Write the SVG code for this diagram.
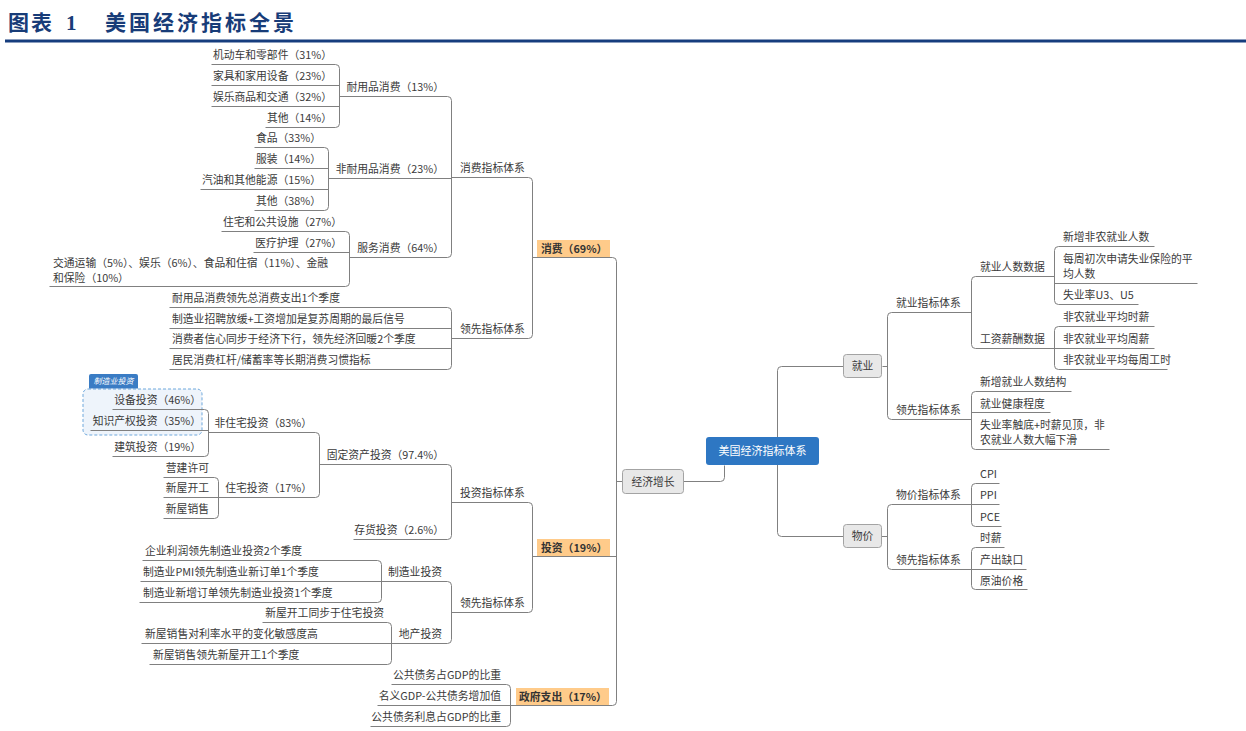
<svg xmlns="http://www.w3.org/2000/svg" width="1246" height="731" viewBox="0 0 1246 731">
<style>
.t{font-family:"Noto Sans CJK SC","Microsoft YaHei",sans-serif;font-size:10.8px;fill:#3a3a3a}
.e{text-anchor:end}
.c{text-anchor:middle}
.b{font-weight:bold;fill:#333}
.w{fill:#ffffff;font-size:11px}
.ln{fill:none;stroke:#808080;stroke-width:1}
.org{fill:#FFCB8A}
.gbox{fill:#E8E8E8;stroke:#A3A3A3;stroke-width:1}
</style>
<rect width="1246" height="731" fill="#ffffff"/>
<g id="title">
<text x="8" y="30" font-family="'Liberation Serif','Noto Sans CJK SC',serif" font-weight="bold" font-size="21" fill="#183C78"><tspan x="8" letter-spacing="2">图表 </tspan><tspan x="66">1</tspan><tspan x="105" letter-spacing="3">美国经济指标全景</tspan></text>
<rect x="5" y="39.5" width="1241" height="3" fill="#163D7E"/>
</g>

<g id="boundary-manufacturing">
<rect x="83" y="389" width="119" height="46" rx="5" fill="#EEF4FB" stroke="#6FA8DC" stroke-width="1" stroke-dasharray="3 2"/>
<path d="M89 388.5 V376 Q89 374 91 374 H136 Q138 374 138 376 V388.5 Z" fill="#3A7CC4"/>
<text class="t" x="113.5" y="384" text-anchor="middle" font-style="italic" style="font-size:8px;fill:#fff">制造业投资</text>
</g>

<g id="connectors" class="ln" transform="translate(0.5 0.5)">
<path class="ln" d="M211 64 H335 Q339 64 339 68 V123 Q339 127 335 127 H265 M211 85 H339 M211 106 H339"/>
<path class="ln" d="M254 147 H324 Q328 147 328 151 V206 Q328 210 324 210 H254 M254 168 H328 M200 189 H328"/>
<path class="ln" d="M221 231 H345 Q349 231 349 235 V282 Q349 286 345 286 H49 M253 252 H349"/>
<path class="ln" d="M339 96 H447 Q451 96 451 100 V253 Q451 257 447 257 H349 M328 178 H451"/>
<path class="ln" d="M169 307 H447 Q451 307 451 311 V365 Q451 369 447 369 H169 M169 328 H451 M169 348 H451"/>
<path class="ln" d="M451 177 H528 Q532 177 532 181 V334 Q532 338 528 338 H451"/>
<path class="ln" d="M532 257 H612 Q616 257 616 261 V701 Q616 705 612 705 H510 M532 556 H616 M616 481 H622"/>
<path class="ln" d="M112 409 H204 Q208 409 208 413 V452 Q208 456 204 456 H112 M90 430 H208"/>
<path class="ln" d="M163 477 H214 Q218 477 218 481 V514 Q218 518 214 518 H163 M163 497 H218"/>
<path class="ln" d="M208 432 H315 Q319 432 319 436 V493 Q319 497 315 497 H218"/>
<path class="ln" d="M319 464 H447 Q451 464 451 468 V535 Q451 539 447 539 H353"/>
<path class="ln" d="M142 560 H377 Q381 560 381 564 V598 Q381 602 377 602 H139 M140 581 H381"/>
<path class="ln" d="M262 622 H387 Q391 622 391 626 V660 Q391 664 387 664 H149 M141 643 H391"/>
<path class="ln" d="M381 581 H447 Q451 581 451 585 V639 Q451 643 447 643 H391"/>
<path class="ln" d="M451 502 H528 Q532 502 532 506 V608 Q532 612 528 612 H451"/>
<path class="ln" d="M391 684 H506 Q510 684 510 688 V722 Q510 726 506 726 H370 M377 705 H510"/>
<path class="ln" d="M683 481 H720 Q724 481 724 477 V465"/>
<path class="ln" d="M843 366 H781 Q777 366 777 370 V532 Q777 536 781 536 H843"/>
<path class="ln" d="M882 366 H887 M971 312 H891 Q887 312 887 316 V415 Q887 419 891 419 H971"/>
<path class="ln" d="M1054 276 H975 Q971 276 971 280 V344 Q971 348 975 348 H1054"/>
<path class="ln" d="M1154 246 H1058 Q1054 246 1054 250 V300 Q1054 304 1058 304 H1138 M1054 283 H1197"/>
<path class="ln" d="M1154 326 H1058 Q1054 326 1054 330 V365 Q1054 369 1058 369 H1167 M1054 348 H1154"/>
<path class="ln" d="M1071 391 H975 Q971 391 971 395 V445 Q971 449 975 449 H1109 M971 412 H1050"/>
<path class="ln" d="M881 536 H887 M971 504 H891 Q887 504 887 508 V565 Q887 569 891 569 H971"/>
<path class="ln" d="M999 483 H975 Q971 483 971 487 V522 Q971 526 975 526 H1001 M971 504 H999"/>
<path class="ln" d="M1004 547 H975 Q971 547 971 551 V585 Q971 589 975 589 H1027 M971 569 H1026"/>
</g>

<g id="root"><rect x="706" y="437" width="113" height="28" rx="3" fill="#2E77C3"/><text class="t w c" x="762.5" y="455">美国经济指标体系</text></g>
<g id="n-growth"><rect class="gbox" x="622.5" y="469.5" width="61" height="24" rx="3"/><text class="t c" x="653" y="485.5">经济增长</text></g>
<g id="n-employment"><rect class="gbox" x="843.5" y="354.5" width="38" height="23" rx="3"/><text class="t c" x="862.5" y="370">就业</text></g>
<g id="n-price"><rect class="gbox" x="843.5" y="524.5" width="38" height="23" rx="3"/><text class="t c" x="862.5" y="540">物价</text></g>

<g id="n-consumption"><rect class="org" x="537" y="240" width="73" height="17"/><text class="t b" x="541" y="252.5">消费（69%）</text></g>
<g id="n-investment"><rect class="org" x="537" y="539" width="73" height="17"/><text class="t b" x="541" y="551.5">投资（19%）</text></g>
<g id="n-gov"><rect class="org" x="516" y="688" width="93" height="17"/><text class="t b" x="519" y="700.5">政府支出（17%）</text></g>

<g id="n-cons-sys"><text class="t" x="460" y="172">消费指标体系</text></g>
<g id="n-durable"><text class="t e" x="444" y="91">耐用品消费（13%）</text></g>
<g id="n-d1"><text class="t e" x="332" y="59">机动车和零部件（31%）</text></g>
<g id="n-d2"><text class="t e" x="332" y="80">家具和家用设备（23%）</text></g>
<g id="n-d3"><text class="t e" x="332" y="101">娱乐商品和交通（32%）</text></g>
<g id="n-d4"><text class="t e" x="332" y="122">其他（14%）</text></g>
<g id="n-nondurable"><text class="t e" x="444" y="173">非耐用品消费（23%）</text></g>
<g id="n-nd1"><text class="t e" x="321" y="142">食品（33%）</text></g>
<g id="n-nd2"><text class="t e" x="321" y="163">服装（14%）</text></g>
<g id="n-nd3"><text class="t e" x="321" y="184">汽油和其他能源（15%）</text></g>
<g id="n-nd4"><text class="t e" x="321" y="205">其他（38%）</text></g>
<g id="n-service"><text class="t e" x="444" y="252">服务消费（64%）</text></g>
<g id="n-s1"><text class="t e" x="342" y="226">住宅和公共设施（27%）</text></g>
<g id="n-s2"><text class="t e" x="342" y="247">医疗护理（27%）</text></g>
<g id="n-s3"><text class="t" x="53" y="267"><tspan x="53" y="267">交通运输（5%）、娱乐（6%）、食品和住宿（11%）、金融</tspan><tspan x="53" y="281.5">和保险（10%）</tspan></text></g>
<g id="n-cons-lead"><text class="t" x="460" y="333">领先指标体系</text></g>
<g id="n-cl1"><text class="t" x="172" y="302">耐用品消费领先总消费支出1个季度</text></g>
<g id="n-cl2"><text class="t" x="172" y="323">制造业招聘放缓+工资增加是复苏周期的最后信号</text></g>
<g id="n-cl3"><text class="t" x="172" y="343">消费者信心同步于经济下行，领先经济回暖2个季度</text></g>
<g id="n-cl4"><text class="t" x="172" y="364">居民消费杠杆/储蓄率等长期消费习惯指标</text></g>

<g id="n-inv-sys"><text class="t" x="460" y="497">投资指标体系</text></g>
<g id="n-fixed"><text class="t e" x="444" y="459">固定资产投资（97.4%）</text></g>
<g id="n-nonres"><text class="t e" x="312" y="427">非住宅投资（83%）</text></g>
<g id="n-nr1"><text class="t e" x="201" y="404">设备投资（46%）</text></g>
<g id="n-nr2"><text class="t e" x="201" y="425">知识产权投资（35%）</text></g>
<g id="n-nr3"><text class="t e" x="201" y="451">建筑投资（19%）</text></g>
<g id="n-res"><text class="t e" x="312" y="492">住宅投资（17%）</text></g>
<g id="n-r1"><text class="t e" x="209" y="472">营建许可</text></g>
<g id="n-r2"><text class="t e" x="209" y="492">新屋开工</text></g>
<g id="n-r3"><text class="t e" x="209" y="513">新屋销售</text></g>
<g id="n-inventory"><text class="t e" x="444" y="534">存货投资（2.6%）</text></g>
<g id="n-inv-lead"><text class="t" x="460" y="607">领先指标体系</text></g>
<g id="n-mfg"><text class="t e" x="442" y="576">制造业投资</text></g>
<g id="n-m1"><text class="t" x="145" y="555">企业利润领先制造业投资2个季度</text></g>
<g id="n-m2"><text class="t" x="143" y="576">制造业PMI领先制造业新订单1个季度</text></g>
<g id="n-m3"><text class="t" x="143" y="597">制造业新增订单领先制造业投资1个季度</text></g>
<g id="n-re"><text class="t e" x="442" y="638">地产投资</text></g>
<g id="n-re1"><text class="t e" x="384" y="617">新屋开工同步于住宅投资</text></g>
<g id="n-re2"><text class="t" x="145" y="638">新屋销售对利率水平的变化敏感度高</text></g>
<g id="n-re3"><text class="t" x="153" y="659">新屋销售领先新屋开工1个季度</text></g>
<g id="n-g1"><text class="t e" x="501" y="679">公共债务占GDP的比重</text></g>
<g id="n-g2"><text class="t e" x="501" y="700">名义GDP-公共债务增加值</text></g>
<g id="n-g3"><text class="t e" x="501" y="721">公共债务利息占GDP的比重</text></g>

<g id="n-emp-sys"><text class="t" x="896" y="307">就业指标体系</text></g>
<g id="n-emp-count"><text class="t" x="980" y="271">就业人数数据</text></g>
<g id="n-ec1"><text class="t" x="1063" y="241">新增非农就业人数</text></g>
<g id="n-ec2"><text class="t" x="1063" y="263"><tspan x="1063" y="263">每周初次申请失业保险的平</tspan><tspan x="1063" y="277.5">均人数</tspan></text></g>
<g id="n-ec3"><text class="t" x="1063" y="299">失业率U3、U5</text></g>
<g id="n-wage"><text class="t" x="980" y="343">工资薪酬数据</text></g>
<g id="n-w1"><text class="t" x="1063" y="321">非农就业平均时薪</text></g>
<g id="n-w2"><text class="t" x="1063" y="343">非农就业平均周薪</text></g>
<g id="n-w3"><text class="t" x="1063" y="364">非农就业平均每周工时</text></g>
<g id="n-emp-lead"><text class="t" x="896" y="414">领先指标体系</text></g>
<g id="n-el1"><text class="t" x="980" y="386">新增就业人数结构</text></g>
<g id="n-el2"><text class="t" x="980" y="407.5">就业健康程度</text></g>
<g id="n-el3"><text class="t" x="980" y="429"><tspan x="980" y="429">失业率触底+时薪见顶，非</tspan><tspan x="980" y="443.5">农就业人数大幅下滑</tspan></text></g>

<g id="n-price-sys"><text class="t" x="896" y="499">物价指标体系</text></g>
<g id="n-p1"><text class="t" x="980" y="478">CPI</text></g>
<g id="n-p2"><text class="t" x="980" y="499">PPI</text></g>
<g id="n-p3"><text class="t" x="980" y="521">PCE</text></g>
<g id="n-price-lead"><text class="t" x="896" y="564">领先指标体系</text></g>
<g id="n-pl1"><text class="t" x="980" y="542">时薪</text></g>
<g id="n-pl2"><text class="t" x="980" y="564">产出缺口</text></g>
<g id="n-pl3"><text class="t" x="980" y="584.5">原油价格</text></g>
</svg>
